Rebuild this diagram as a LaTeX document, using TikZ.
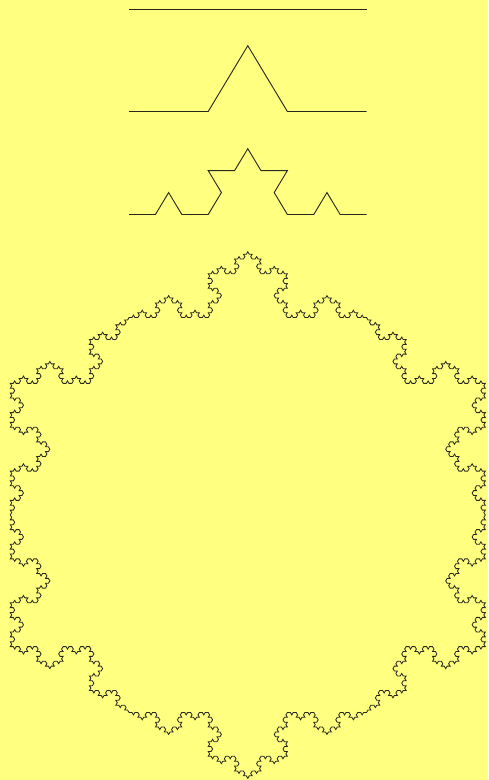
\documentclass[tikz,border=0pt]{standalone}
\usetikzlibrary{lindenmayersystems}
\pgfdeclarelindenmayersystem{KochL}{\rule{F -> F+F--F+F}}
\definecolor{bg}{RGB}{255,255,128}
\definecolor{ink}{RGB}{40,40,30}
\tikzset{kochline/.style={ink, line width=0.9pt}}
\begin{document}
\begin{tikzpicture}[x=1pt,y=1pt]
\fill[bg] (-247.8,0) rectangle (240.2,-780);
\useasboundingbox (-247.8,0) rectangle (240.2,-780);
\begin{scope}[transform canvas={xscale=1.0417}]
\draw[kochline] (-114,-9) -- (114,-9);
\draw[kochline, shift={(-114,-111.5)}] (0,0) [l-system={KochL, axiom=F, order=1, step=76pt, angle=60}] lindenmayer system;
\draw[kochline, shift={(-114,-214.5)}] (0,0) [l-system={KochL, axiom=F, order=2, step=25.33333pt, angle=60}] lindenmayer system;
\draw[kochline, line width=0.8pt, shift={(-114,-317.55)}] (0,0) [l-system={KochL, axiom=F-F-F-F-F-F, order=4, step=2.814815pt, angle=60}] lindenmayer system -- cycle;
\end{scope}
\end{tikzpicture}
\end{document}
